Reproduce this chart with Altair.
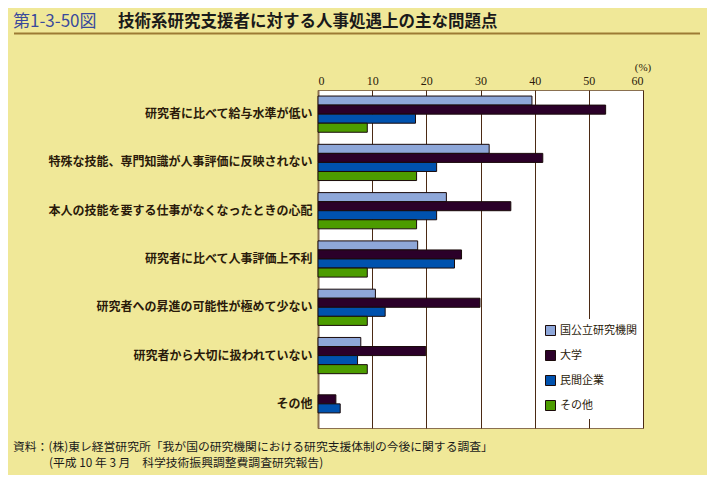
import altair as alt
import pandas as pd

categories = [
    "研究者に比べて給与水準が低い",
    "特殊な技能、専門知識が人事評価に反映されない",
    "本人の技能を要する仕事がなくなったときの心配",
    "研究者に比べて人事評価上不利",
    "研究者への昇進の可能性が極めて少ない",
    "研究者から大切に扱われていない",
    "その他",
]
series = ["国公立研究機関", "大学", "民間企業", "その他"]
v_kokko = [39.5, 31.6, 23.7, 18.4, 10.6, 7.9, 0]
v_daigaku = [53.1, 41.5, 35.6, 26.5, 29.9, 19.9, 3.3]
v_minkan = [18.0, 21.9, 21.9, 25.2, 12.4, 7.3, 4.1]
v_sonota = [9.1, 18.2, 18.2, 9.1, 9.1, 9.1, 0]
colors = ["#8EA7D9", "#2B0029", "#0052AE", "#4C9C00"]
x_ticks = [0, 10, 20, 30, 40, 50, 60]

rows = []
for s, vals in zip(series, [v_kokko, v_daigaku, v_minkan, v_sonota]):
    for c, v in zip(categories, vals):
        rows.append({"category": c, "series": s, "value": v})
df = pd.DataFrame(rows)

BG = "#F0E898"
JP = "Noto Sans CJK JP"

bars = alt.Chart(df).transform_filter("datum.value > 0").mark_bar(
    stroke="#1A0A0A", strokeWidth=1
).encode(
    x=alt.X("value:Q", scale=alt.Scale(domain=[0, 60], nice=False),
            axis=alt.Axis(orient="top", values=x_ticks, title=None, ticks=False,
                          labelFont="Liberation Serif", labelFontSize=12,
                          labelColor="#2A1A0A", labelPadding=3,
                          grid=True, gridColor="#4B2A14", gridOpacity=1,
                          domain=False)),
    y=alt.Y("category:N", sort=categories,
            scale=alt.Scale(paddingInner=0.25, paddingOuter=0.125),
            axis=alt.Axis(title=None, ticks=False, labelFont=JP, labelFontSize=12,
                          labelFontWeight="bold", labelColor="#2A1A0A",
                          labelPadding=6, domainColor="#8A7050", domainWidth=2,
                          labelLimit=320)),
    yOffset=alt.YOffset("series:N", sort=series,
                        scale=alt.Scale(domain=series, paddingInner=0, paddingOuter=0)),
    color=alt.Color("series:N", sort=series,
                    scale=alt.Scale(domain=series, range=colors),
                    legend=alt.Legend(title=None, orient="none", legendX=221, legendY=229,
                                      symbolType="square", symbolSize=100,
                                      symbolStrokeColor="#1A0A0A", symbolStrokeWidth=1,
                                      labelFont=JP, labelFontSize=11, labelColor="#2A1A0A",
                                      rowPadding=10, fillColor="white", padding=6)),
)


def txt(t, x, y, size, color="#1A1A1A", weight="normal", align="left", font=JP):
    return alt.Chart(pd.DataFrame({"t": [t]})).mark_text(
        align=align, baseline="middle", fontSize=size, color=color,
        fontWeight=weight, font=font
    ).encode(text="t:N", x=alt.value(x), y=alt.value(y))


fig_no = txt("第1-3-50図", -305, -68.5, 17, color="#3A4A9C")
title = txt("技術系研究支援者に対する人事処遇上の主な問題点", -200, -68.5, 16.5, weight="bold")
underline = alt.Chart(pd.DataFrame({"a": [0]})).mark_rule(
    color="#9C7B34", strokeWidth=2
).encode(x=alt.value(-304), x2=alt.value(382), y=alt.value(-56.5))
pct = txt("(%)", 325, -22, 11, color="#2A1A0A", align="center", font="Liberation Serif")
foot1 = txt("資料：(株)東レ経営研究所「我が国の研究機関における研究支援体制の今後に関する調査」",
            -305, 357, 11.8, color="#1A1A1A")
foot2 = txt("(平成 10 年 3 月　科学技術振興調整費調査研究報告)", -269, 373, 11.8, color="#1A1A1A")

chart = alt.layer(bars, fig_no, title, underline, pct, foot1, foot2).properties(
    width=325, height=338,
    background=BG,
    autosize=alt.AutoSizeParams(type="none"),
    padding={"left": 310, "top": 82, "right": 64, "bottom": 47},
).configure_view(
    fill="white", stroke="#8A7050", strokeWidth=1
)

chart.save("out.html", embed_options={"renderer": "svg", "actions": False})
